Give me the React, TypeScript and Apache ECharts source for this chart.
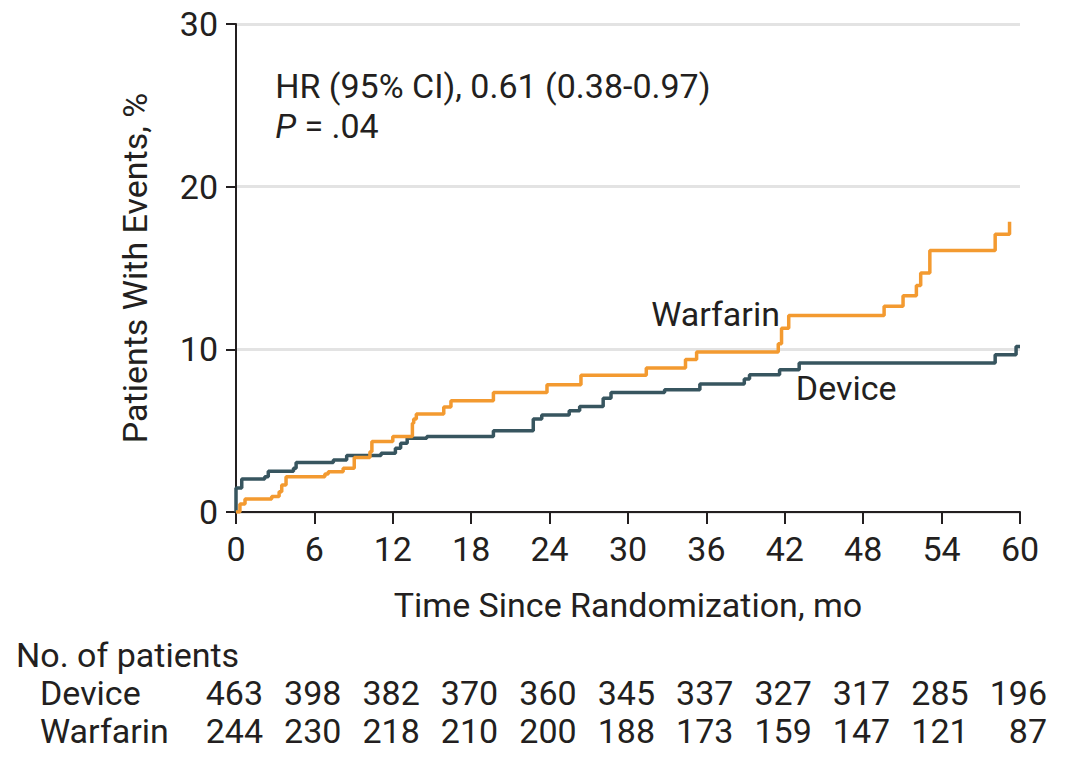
import React, { useEffect, useRef } from "react";
import * as echarts from "echarts";

const xTicks = [0, 6, 12, 18, 24, 30, 36, 42, 48, 54, 60];
const yTicks = [0, 10, 20, 30];

const deviceCurve: [number, number][] = [
  [0, 0], [0, 1.48], [0.44, 2.03], [2.2, 2.17], [2.47, 2.5], [4.4, 2.69], [4.6, 3.04],
  [7.45, 3.2], [8.47, 3.47], [11.1, 3.61], [12.2, 3.92], [12.6, 4.23], [13.1, 4.54],
  [14.6, 4.64], [19.7, 4.99], [22.75, 5.71], [23.4, 5.97], [25.5, 6.22], [26.3, 6.49],
  [28.1, 7.0], [28.7, 7.35], [32.8, 7.52], [35.5, 7.87], [38.9, 8.18], [39.3, 8.44],
  [41.6, 8.75], [43.1, 9.16], [58.1, 9.67], [59.7, 10.18], [60, 10.18],
];

const warfarinCurve: [number, number][] = [
  [0, 0], [0.3, 0.49], [0.69, 0.8], [2.73, 0.95], [3.3, 1.25], [3.5, 1.66], [3.83, 2.17],
  [6.8, 2.34], [7.06, 2.48], [8.2, 2.69], [9.05, 3.35], [10.25, 3.71], [10.4, 4.33],
  [12.0, 4.64], [13.5, 5.46], [13.6, 5.71], [13.8, 6.02], [15.9, 6.45], [16.45, 6.84],
  [19.7, 7.35], [23.8, 7.82], [26.4, 8.4], [31.4, 8.85], [34.4, 9.37], [35.25, 9.84],
  [41.5, 10.35], [41.75, 11.3], [42.3, 12.08], [49.6, 12.65], [51.05, 13.3], [52.07, 13.93],
  [52.4, 14.7], [53.1, 16.08], [58.1, 17.07], [59.2, 17.85], [59.2, 17.85],
];

const riskTimes = [0, 6, 12, 18, 24, 30, 36, 42, 48, 54, 60];
const deviceAtRisk = [463, 398, 382, 370, 360, 345, 337, 327, 317, 285, 196];
const warfarinAtRisk = [244, 230, 218, 210, 200, 188, 173, 159, 147, 121, 87];

const seriesNames = ["Device", "Warfarin"];
const hrText = "HR (95% CI), 0.61 (0.38-0.97)";
const pText = ".04";
const tableTitle = "No. of patients";
const xTitle = "Time Since Randomization, mo";
const yTitle = "Patients With Events, %";

// annotation anchors in data units
const warfarinLabelAt: [number, number] = [36.7, 12.2];
const deviceLabelAt: [number, number] = [46.7, 7.6];
const hrAt: [number, number] = [3.0, 26.2];
const pAt: [number, number] = [3.0, 23.7];

const FONT = '"Roboto", "Noto Sans", sans-serif';
const FS = 34;
const TEXT = "#231f20";
const ORANGE = "#F39A30";
const TEAL = "#37555F";

export default function App() {
  const ref = useRef<HTMLDivElement>(null);
  useEffect(() => {
    const chart = echarts.init(ref.current!, null, { renderer: "svg" });
    chart.setOption({
      animation: false,
      backgroundColor: "#ffffff",
      textStyle: { fontFamily: FONT },
      grid: { left: 236, right: 46, top: 24, bottom: 260 },
      xAxis: {
        type: "value",
        min: 0,
        max: 60,
        interval: 6,
        name: xTitle,
        nameLocation: "middle",
        nameGap: 76,
        nameTextStyle: { fontSize: FS, color: TEXT, fontFamily: FONT },
        axisLine: { show: true, lineStyle: { color: TEXT, width: 2 } },
        axisTick: { show: true, length: 12, lineStyle: { color: TEXT, width: 2 } },
        axisLabel: { fontSize: FS, color: TEXT, margin: 20, fontFamily: FONT },
        splitLine: { show: false },
      },
      yAxis: {
        type: "value",
        min: 0,
        max: 30,
        interval: 10,
        name: yTitle,
        nameLocation: "middle",
        nameGap: 84,
        nameRotate: 90,
        nameTextStyle: { fontSize: FS, color: TEXT, fontFamily: FONT },
        axisLine: { show: true, lineStyle: { color: TEXT, width: 2 } },
        axisTick: { show: true, length: 10, lineStyle: { color: TEXT, width: 2 } },
        axisLabel: { fontSize: FS, color: TEXT, margin: 18, fontFamily: FONT },
        splitLine: { show: true, lineStyle: { color: "#e3e3e3", width: 3 } },
      },
      series: [
        {
          name: seriesNames[0],
          type: "line",
          step: "end",
          data: deviceCurve,
          symbol: "none",
          lineStyle: { color: TEAL, width: 3.5 },
          z: 3,
        },
        {
          name: seriesNames[1],
          type: "line",
          step: "end",
          data: warfarinCurve,
          symbol: "none",
          lineStyle: { color: ORANGE, width: 3.5 },
          z: 4,
        },
      ],
    });

    const px = (p: [number, number]) => chart.convertToPixel({ gridIndex: 0 }, p) as number[];
    const g: any[] = [];
    const txt = (x: number, y: number, text: string, align: string, extra: any = {}) => ({
      type: "text", x, y,
      style: { text, font: `${FS}px ${FONT}`, fill: TEXT, align, verticalAlign: "middle", ...extra },
    });
    const wl = px(warfarinLabelAt);
    g.push(txt(wl[0], wl[1], seriesNames[1], "center"));
    const dl = px(deviceLabelAt);
    g.push(txt(dl[0], dl[1], seriesNames[0], "center"));
    const h = px(hrAt);
    g.push(txt(h[0], h[1], hrText, "left"));
    const p = px(pAt);
    g.push(txt(p[0], p[1], `{i|P} = ${pText}`, "left", {
      rich: { i: { fontStyle: "italic", fontSize: FS, fontFamily: FONT, fill: TEXT } },
    }));
    g.push(txt(16, 655, tableTitle, "left"));
    g.push(txt(40, 693, seriesNames[0], "left"));
    g.push(txt(40, 731, seriesNames[1], "left"));
    riskTimes.forEach((t, i) => {
      const x = (chart.convertToPixel({ xAxisIndex: 0 }, t) as number) + 27;
      g.push(txt(x, 693, String(deviceAtRisk[i]), "right"));
      g.push(txt(x, 731, String(warfarinAtRisk[i]), "right"));
    });
    chart.setOption({ graphic: g });
    return () => chart.dispose();
  }, []);
  return (
    <div
      ref={ref}
      style={{ position: "fixed", left: 0, top: 0, width: 1066, height: 772, background: "#fff" }}
    />
  );
}
